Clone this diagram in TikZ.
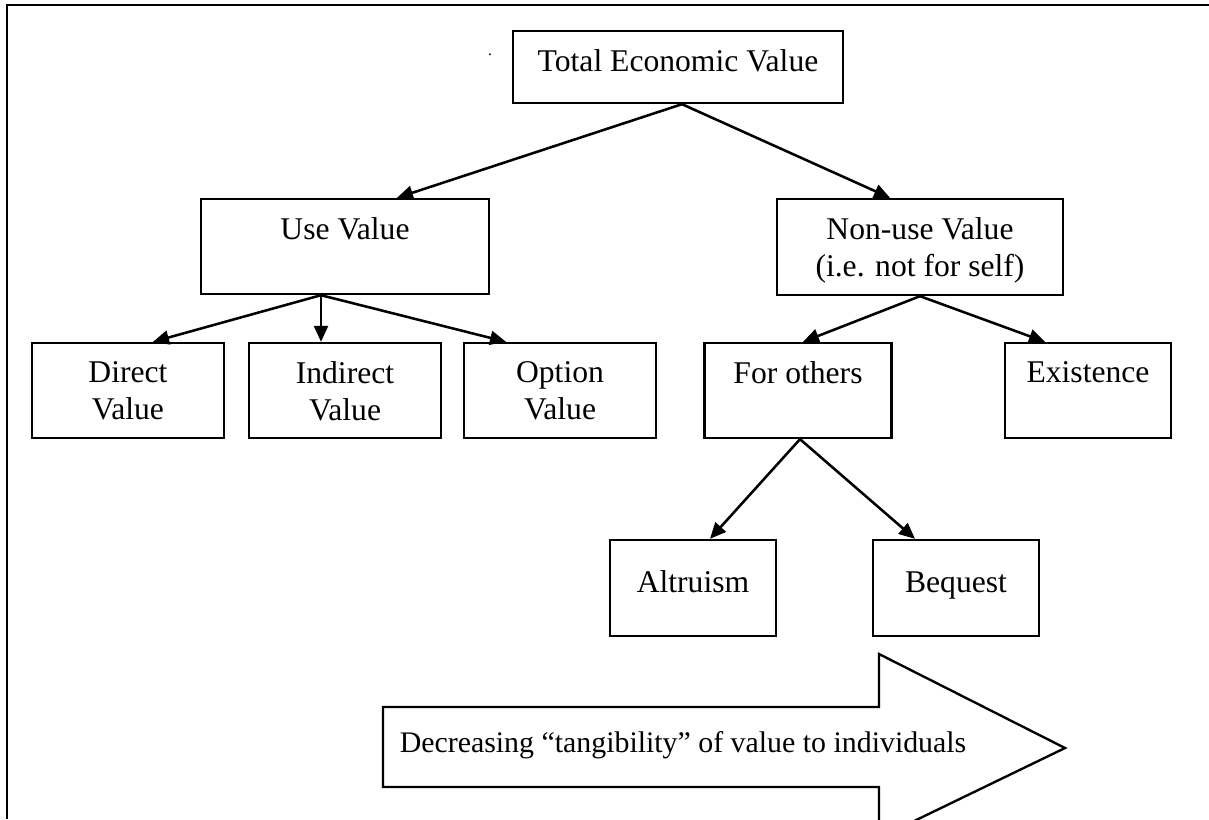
\documentclass[tikz,border=0pt]{standalone}
\usepackage{fontspec}
\setmainfont{Liberation Serif}
\usetikzlibrary{arrows.meta}

\begin{document}
\begin{tikzpicture}[x=0.02cm, y=-0.02cm,
  box/.style={rectangle, draw, line width=1.35pt, minimum width=3.84cm,
              minimum height=1.9cm, inner sep=0pt},
  toptext/.style={label={[anchor=north, yshift=-0.38cm, inner sep=0pt,
                          align=center]north:#1}},
  arrow/.style={-{Triangle[length=0.32cm, width=0.28cm]}, line width=1.45pt},
  font=\fontsize{18}{21.5}\selectfont
]
\useasboundingbox (0,0) rectangle (1209,819);
\draw[line width=1.35pt] (7,819) -- (7,5) -- (1209,5);

\node[box, minimum width=6.6cm, minimum height=1.44cm,
      toptext={Total Economic Value}] (tev) at (678,67) {};
\node[inner sep=0pt, font=\small] (dot) at (490,55) {.};

\node[box, minimum width=5.76cm, toptext={Use Value}] (use) at (345,246.5) {};
\node[box, minimum width=5.72cm, minimum height=1.92cm,
      toptext={Non-use Value\\(i.e. not for self)}] (non) at (920,247) {};

\node[box, toptext={Direct\\Value}]   (dir) at (128,390.5) {};
\node[box, toptext={Indirect\\Value}] (ind) at (345,390.5) {};
\node[box, toptext={Option\\Value}]   (opt) at (560,390.5) {};
\node[box, minimum width=3.74cm, toptext={For others}] (oth) at (798,390.5) {};
\node[box, minimum width=3.32cm, toptext={Existence}]  (ex)  at (1088,390.5) {};

\node[box, minimum width=3.32cm, minimum height=1.92cm,
      text height=0.7em, text depth=0.2em] (alt) at (693,588) {Altruism};
\node[box, minimum width=3.32cm, minimum height=1.92cm,
      text height=0.7em, text depth=0.2em] (beq) at (956,588) {Bequest};

\draw[arrow] ([xshift=0.08cm]tev.south) -- ([xshift=1.04cm]use.north);
\draw[arrow] ([xshift=0.08cm]tev.south) -- ([xshift=-0.6cm]non.north);
\draw[arrow] ([xshift=-0.48cm]use.south) -- ([xshift=0.5cm]dir.north);
\draw[arrow] ([xshift=-0.48cm]use.south) -- ([xshift=-0.48cm]ind.north);
\draw[arrow] ([xshift=-0.48cm]use.south) -- ([xshift=-1.08cm]opt.north);
\draw[arrow] (non.south) -- ([xshift=0.1cm]oth.north);
\draw[arrow] (non.south) -- ([xshift=-0.86cm]ex.north);
\draw[arrow] ([xshift=0.04cm]oth.south) -- ([xshift=0.34cm]alt.north);
\draw[arrow] ([xshift=0.04cm]oth.south) -- ([xshift=-0.82cm]beq.north);

% big arrow at the bottom
\draw[line width=1.35pt] (383,707) -- (879,707) -- (879,654) -- (1065,748)
  -- (879,838) -- (879,787) -- (383,787) -- cycle;
\node[font=\fontsize{17}{20}\selectfont] (dec) at (683,745)
  {Decreasing “tangibility” of value to individuals};
\end{tikzpicture}
\end{document}
